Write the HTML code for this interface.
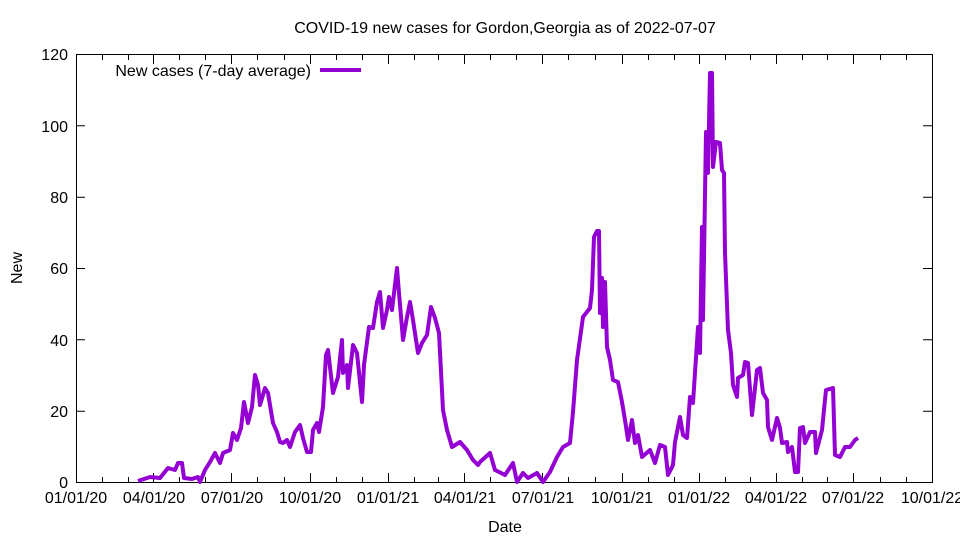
<!DOCTYPE html>
<html><head><meta charset="utf-8"><style>
body{margin:0;background:#fff}
svg{display:block}
text{font-family:"Liberation Sans",sans-serif;font-size:16px;fill:#000}
</style></head><body>
<svg width="960" height="540" viewBox="0 0 960 540">
<rect width="960" height="540" fill="#fff"/>
<text x="505" y="33" text-anchor="middle" font-size="15">COVID-19 new cases for Gordon,Georgia as of 2022-07-07</text>
<g stroke="#000" stroke-width="1">
<rect x="76.5" y="54.5" width="856" height="428" fill="none"/>
<path d="M76 482.5h9M76 411.2h9M76 339.8h9M76 268.5h9M76 197.2h9M76 125.8h9M76 54.5h9
M932 411.2h-9M932 339.8h-9M932 268.5h-9M932 197.2h-9M932 125.8h-9"/>
<path d="M153.5 482v-9M231.5 482v-9M310.5 482v-9M388.5 482v-9M464.5 482v-9M542.5 482v-9M622.5 482v-9M699.5 482v-9M776.5 482v-9M853.5 482v-9
M153.5 55v9M231.5 55v9M310.5 55v9M388.5 55v9M464.5 55v9M542.5 55v9M622.5 55v9M699.5 55v9M776.5 55v9M853.5 55v9
M102.5 482v-5M128.5 482v-5M179.5 482v-5M205.5 482v-5M257.5 482v-5M284.5 482v-5M336.5 482v-5M362.5 482v-5M414.5 482v-5M438.5 482v-5M490.5 482v-5M516.5 482v-5M568.5 482v-5M595.5 482v-5M648.5 482v-5M674.5 482v-5M725.5 482v-5M750.5 482v-5M802.5 482v-5M827.5 482v-5M880.5 482v-5M906.5 482v-5
M102.5 55v5M128.5 55v5M179.5 55v5M205.5 55v5M257.5 55v5M284.5 55v5M336.5 55v5M362.5 55v5M414.5 55v5M438.5 55v5M490.5 55v5M516.5 55v5M568.5 55v5M595.5 55v5M648.5 55v5M674.5 55v5M725.5 55v5M750.5 55v5M802.5 55v5M827.5 55v5M880.5 55v5M906.5 55v5"/>
</g>
<g text-anchor="end">
<text x="68" y="488">0</text><text x="68" y="417">20</text><text x="68" y="346">40</text><text x="68" y="274">60</text><text x="68" y="203">80</text><text x="68" y="132">100</text><text x="68" y="60">120</text>
</g>
<g text-anchor="middle">
<text x="76" y="503">01/01/20</text><text x="154" y="503">04/01/20</text><text x="232" y="503">07/01/20</text><text x="310" y="503">10/01/20</text><text x="388" y="503">01/01/21</text><text x="465" y="503">04/01/21</text><text x="543" y="503">07/01/21</text><text x="622" y="503">10/01/21</text><text x="699" y="503">01/01/22</text><text x="776" y="503">04/01/22</text><text x="853" y="503">07/01/22</text><text x="932" y="503">10/01/22</text>
<text x="505" y="532">Date</text>
<text transform="translate(22 268) rotate(-90)">New</text>
</g>
<text x="311" y="76" text-anchor="end">New cases (7-day average)</text>
<path d="M320 70H361" stroke="#9400d3" stroke-width="4"/>
<polyline fill="none" stroke="#9400d3" stroke-width="4" stroke-linejoin="round" points="138,481 150,477 160,478 168,468 175,470 178,463 182,463 184,478 192,479 198,477 200,482 205,470 210,462 215,453 220,463 223,453 230,450 233,433 237,440 241,428 244,402 248,423 252,407 255,375 258,385 260,405 265,388 268,393 273,423 277,432 280,442 283,443 287,440 290,447 295,432 300,425 303,438 307,452 311,452 313,430 317,423 319,432 323,407 326,355 328,350 333,393 338,377 342,340 343,373 347,365 348,388 353,345 357,353 362,402 364,365 369,327 373,328 377,302 380,292 383,328 387,310 389,297 392,310 397,268 399,293 403,340 407,317 410,302 413,320 418,353 422,343 427,335 431,307 435,318 439,333 443,410 447,430 452,447 460,442 467,450 473,460 478,465 480,462 490,453 495,470 505,475 513,463 517,482 523,473 528,478 537,473 543,482 550,472 557,457 563,447 570,443 573,412 577,360 583,317 590,308 592,290 594,237 597,231 599,231 600,313 602,278 603,327 605,282 607,347 610,360 613,380 618,382 622,402 625,420 628,440 632,420 635,443 638,435 642,457 650,450 655,463 660,445 665,447 668,475 673,465 675,442 680,417 683,435 687,438 690,397 693,403 698,327 700,353 702,227 703,320 706,132 708,173 710,73 712,73 713,167 716,142 720,143 722,170 724,173 725,253 728,330 731,353 733,385 737,397 738,378 743,375 745,362 748,363 752,415 757,370 760,368 763,393 767,400 768,427 772,440 777,418 780,428 782,443 787,442 788,452 792,447 795,472 798,472 800,428 803,427 805,443 810,432 815,432 816,453 822,430 826,390 833,388 835,455 840,457 845,447 850,447 855,440 858,438"/>
</svg>
</body></html>
